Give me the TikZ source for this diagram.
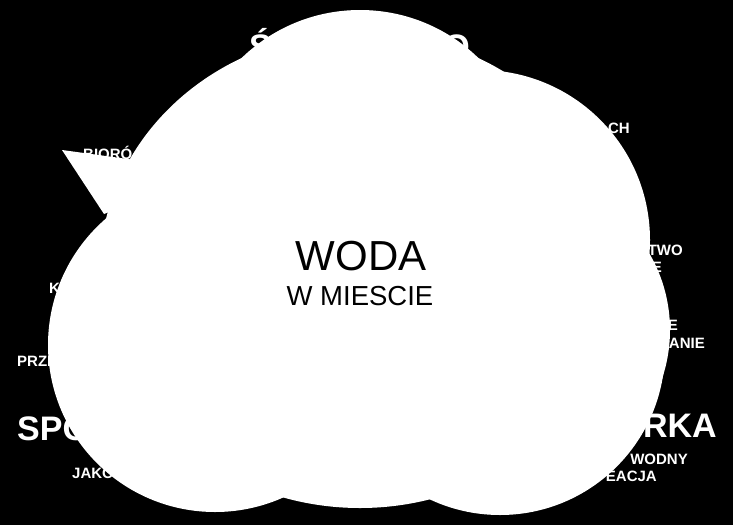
\documentclass[tikz,border=0pt]{standalone}
\usepackage{fontspec}
\setmainfont{Liberation Sans}
\usetikzlibrary{positioning}

\begin{document}
\begin{tikzpicture}[
    x=1pt, y=-1pt,
    cloud/.style={fill=white},
    big/.style={font=\fontsize{34}{34}\selectfont\bfseries, text=white, inner sep=0pt},
    small/.style={font=\fontsize{15}{15}\selectfont\bfseries, text=white, inner sep=0pt},
    title/.style={font=\fontsize{42}{42}\selectfont, text=black, inner sep=0pt, anchor=base},
    subtitle/.style={font=\fontsize{27.5}{27.5}\selectfont, text=black, inner sep=0pt, anchor=base}
]
    % Background
    \fill[black] (0,0) rectangle (733,525);
    \useasboundingbox (0,0) rectangle (733,525);

    % Outer labels, partly hidden by the cloud
    \node[big, anchor=base west] (srod) at (249,58) {Ś};
    \node[big, anchor=base east] (srodo) at (470,58) {O};
    \node[small, anchor=base west] (bioro) at (83,159) {BIORÓ};
    \node[small, anchor=base east] (ch) at (630,133) {CH};
    \node[small, anchor=base east] (two) at (683,255) {TWO};
    \node[small, anchor=base east] (twoe) at (662,272) {E};
    \node[small, anchor=base west] (k) at (49,293) {K};
    \node[small, anchor=base east] (anie) at (678,330) {E};
    \node[small, anchor=base east] (aniee) at (705,348) {ANIE};
    \node[small, anchor=base west] (prze) at (17,366) {PRZE};
    \node[big, anchor=base west] (spo) at (17,440) {SPO};
    \node[big, anchor=base east] (rka) at (717,437) {RKA};
    \node[small, anchor=base east] (wodny) at (688,464) {WODNY};
    \node[small, anchor=base west] (jako) at (72,478) {JAKO};
    \node[small, anchor=base east] (eacja) at (657,481) {EACJA};

    % Cloud
    \fill[cloud] (360,270) ellipse [x radius=260, y radius=238];
    \fill[cloud] (360,180) circle [radius=170];
    \fill[cloud] (480,240) circle [radius=170];
    \fill[cloud] (215,345) circle [radius=167];
    \fill[cloud] (518,330) circle [radius=152];
    \fill[cloud] (500,350) circle [radius=165];
    \fill[cloud] (62,150) -- (135,160) -- (140,200) -- (104,214) -- cycle;

    % Title
    \node[title] (woda) at (361,270) {WODA};
    \node[subtitle] (miescie) at (360,305) {W MIESCIE};
\end{tikzpicture}
\end{document}
